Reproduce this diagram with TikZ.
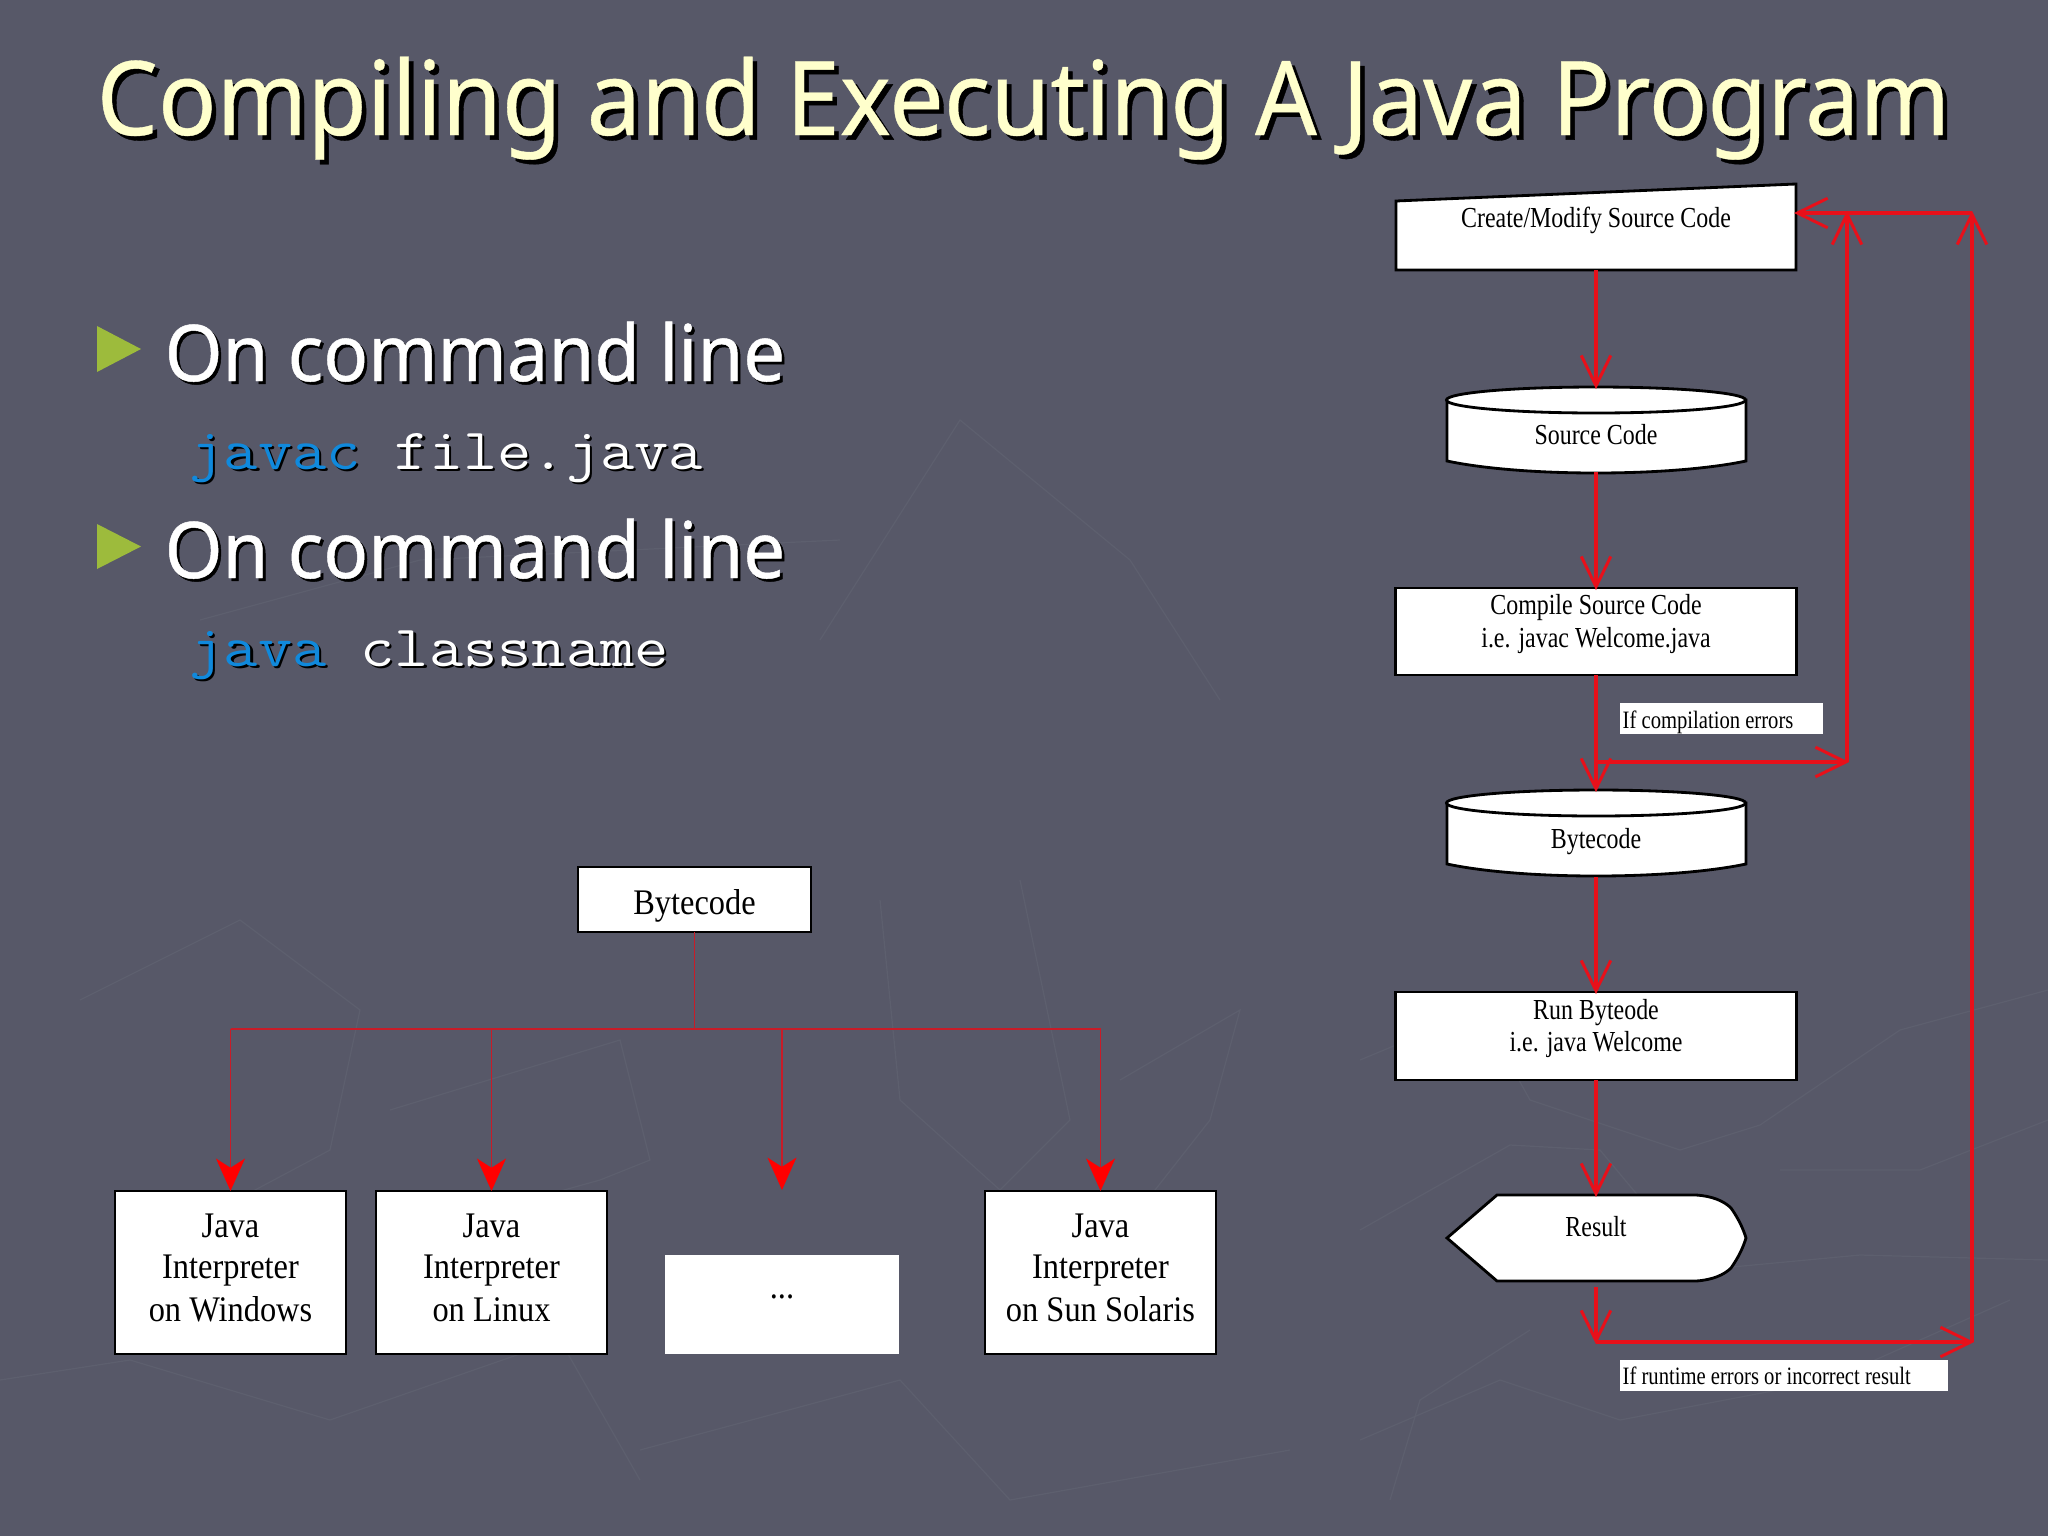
\documentclass[tikz,border=0pt]{standalone}
\usepackage{fontspec}
\usetikzlibrary{arrows.meta,calc}
\setmainfont{Liberation Serif}
\newfontfamily\titlefont[FakeStretch=0.941,FakeBold=0.35]{Noto Sans}
\newfontfamily\headfont[FakeStretch=0.95,FakeBold=0.6]{Noto Sans}
\newfontfamily\codefont[FakeStretch=1.138]{Latin Modern Mono}
\newfontfamily\flowfont[FakeStretch=0.825]{Liberation Serif}
\newfontfamily\treefont[FakeStretch=0.90]{Liberation Serif}
\definecolor{bgc}{HTML}{575868}
\definecolor{bgl}{HTML}{5D5F6E}
\definecolor{titlec}{HTML}{FFFFCC}
\definecolor{bulletc}{HTML}{9DBB3C}
\definecolor{codeb}{HTML}{1089DC}
\definecolor{flowred}{HTML}{E8101A}
\definecolor{treered}{HTML}{C81C28}
\newcommand{\shadtxt}[4]{\makebox[0pt][l]{\kern#3\raisebox{-#4}{\color{black}#1}}{\color{#2}#1}}
\tikzset{
  x=0.01cm,y=-0.01cm,
  hit/.style={inner sep=0pt,outer sep=0pt,minimum width=#1},
  flowshape/.style={draw=black,fill=white,line width=0.8pt,line join=miter},
  treebox/.style={draw=black,fill=white,line width=0.7pt,inner sep=0pt,outer sep=0pt,minimum width=2.31cm,minimum height=1.63cm},
  whitebox/.style={fill=white,inner sep=0pt,outer sep=0pt},
  flowtxt/.style={inner sep=0pt,anchor=base,font=\flowfont\fontsize{8.25}{9.2}\selectfont,align=center},
  smalltxt/.style={inner sep=0pt,anchor=base west,font=\flowfont\fontsize{7.11}{8}\selectfont},
  treetxt/.style={inner sep=0pt,anchor=base,font=\treefont\fontsize{10.24}{11.9}\selectfont,align=center},
  flowarrow/.style={draw=flowred,line width=0.95pt,shorten >=-0.6pt,-{Straight Barb[length=8.6pt,width=8.4pt,line width=0.85pt]}},
  treearrow/.style={draw=treered,line width=0.5pt,-{Stealth[length=9.2pt,width=8.2pt,inset=2.6pt,color=red]}},
  treeline/.style={draw=treered,line width=0.7pt},
  bgline/.style={draw=bgl,line width=0.35pt},
  headtxt/.style={inner sep=0pt,anchor=base west,font=\headfont\fontsize{22.2}{26}\selectfont},
  codetxt/.style={inner sep=0pt,anchor=base west,font=\codefont\fontsize{16.6}{19}\selectfont},
  bullet/.style={fill=bulletc,draw=none}
}
\newcommand{\flowcyl}[1]{%
  \filldraw[flowshape] (1447,{#1+13}) -- (1447,{#1+74})
    .. controls (1485,{#1+82}) and (1540,{#1+86}) .. (1596,{#1+86})
    .. controls (1652,{#1+86}) and (1708,{#1+82}) .. (1746,{#1+74}) -- (1746,{#1+13}) -- cycle;
  \filldraw[flowshape] (1596,{#1+13}) ellipse [x radius=149.5,y radius=13];
}
\begin{document}
\begin{tikzpicture}
\useasboundingbox (0,0) rectangle (2048,1536);
\fill[bgc] (0,0) rectangle (2048,1536);
% faint background texture
\draw[bgline] (1360,1060) -- (1480,1010) -- (1530,1100) -- (1680,1150) -- (1760,1125) -- (1900,1030) -- (2048,990);
\draw[bgline] (1780,1170) -- (1920,1170) -- (2048,1120);
\draw[bgline] (1360,1230) -- (1510,1145) -- (1600,1150) -- (1700,1270) -- (1860,1255) -- (2048,1260);
\draw[bgline] (1360,1440) -- (1500,1380) -- (1620,1420) -- (1830,1380) -- (2010,1300);
\draw[bgline] (1390,1500) -- (1420,1400) -- (1530,1330);
\draw[bgline] (80,1000) -- (240,920) -- (360,1010) -- (330,1150) -- (180,1230);
\draw[bgline] (390,1110) -- (620,1040) -- (650,1160) -- (600,1180) -- (420,1230);
\draw[bgline] (880,900) -- (900,1100) -- (1000,1190) -- (1070,1120) -- (1020,880);
\draw[bgline] (1120,1080) -- (1240,1010) -- (1210,1120) -- (1100,1260);
\draw[bgline] (0,1380) -- (130,1360) -- (330,1420) -- (560,1340) -- (640,1480);
\draw[bgline] (640,1450) -- (900,1380) -- (1010,1500) -- (1290,1450);
\draw[bgline] (200,620) -- (420,560) -- (840,540);
\draw[bgline] (820,640) -- (960,420) -- (1130,560) -- (1220,700);
% title and bullets
\node[inner sep=0pt,anchor=base west,font=\titlefont\fontsize{29.3}{34}\selectfont] (title) at (96,135) {\shadtxt{Compiling and Executing A Java Program}{titlec}{1.3pt}{1.3pt}};
\filldraw[bullet] (97,326) -- (141,349) -- (97,372) -- cycle;
\node[headtxt] (h1) at (164,381) {\shadtxt{On command line}{white}{0.8pt}{0.8pt}};
\node[codetxt] (c1) at (189,469) {\shadtxt{javac}{codeb}{0.6pt}{0.7pt} \shadtxt{file.java}{white}{0.6pt}{0.7pt}};
\filldraw[bullet] (97,524) -- (141,546.5) -- (97,569) -- cycle;
\node[headtxt] (h2) at (164,578) {\shadtxt{On command line}{white}{0.8pt}{0.8pt}};
\node[codetxt] (c2) at (189,666) {\shadtxt{java}{codeb}{0.6pt}{0.7pt} \shadtxt{classname}{white}{0.6pt}{0.7pt}};
% right flowchart shapes
\filldraw[flowshape] (1396,201) -- (1796,184) -- (1796,270) -- (1396,270) -- cycle;
\node[hit=4cm,minimum height=0.86cm] (create) at (1596,227) {};
\node[flowtxt] (createT) at (1596,227) {Create/Modify Source Code};
\flowcyl{387}
\node[hit=2.99cm,minimum height=0.85cm] (src) at (1596,429.5) {};
\node[flowtxt] (srcT) at (1596,444) {Source Code};
\node[flowshape,inner sep=0pt,outer sep=0pt,minimum width=4cm,minimum height=0.87cm] (compile) at (1596,631.5) {};
\node[flowtxt] (compileT1) at (1596,614.5) {Compile Source Code};
\node[flowtxt] (compileT2) at (1596,647) {i.e. javac Welcome.java};
\node[whitebox,minimum width=2.03cm,minimum height=0.31cm] (cerr) at (1721.5,718.5) {};
\node[smalltxt] (cerrT) at (1622,728) {If compilation errors};
\flowcyl{790}
\node[hit=2.99cm,minimum height=0.87cm] (bc) at (1596,833.5) {};
\node[flowtxt] (bcT) at (1596,848) {Bytecode};
\node[flowshape,inner sep=0pt,outer sep=0pt,minimum width=4cm,minimum height=0.88cm] (run) at (1596,1036) {};
\node[flowtxt] (runT1) at (1596,1019) {Run Byteode};
\node[flowtxt] (runT2) at (1596,1051) {i.e. java Welcome};
\filldraw[flowshape] (1447,1238) -- (1497,1195) -- (1696,1195)
  .. controls (1712,1196) and (1724,1201) .. (1731,1208)
  .. controls (1738,1218) and (1743,1228) .. (1746,1238)
  .. controls (1743,1248) and (1738,1258) .. (1731,1268)
  .. controls (1724,1275) and (1712,1280) .. (1696,1281)
  -- (1497,1281) -- cycle;
\node[hit=2.99cm,minimum height=0.86cm] (res) at (1596,1238) {};
\node[flowtxt] (resT) at (1596,1236) {Result};
\node[whitebox,minimum width=3.28cm,minimum height=0.31cm] (rerr) at (1784,1375.5) {};
\node[smalltxt] (rerrT) at (1622,1384) {If runtime errors or incorrect result};
% flowchart connectors
\coordinate (j1) at (1596,762);
\coordinate (j2) at (1847,762);
\coordinate (j3) at (1847,213);
\coordinate (j4) at (1596,1342);
\coordinate (j5) at (1972,1342);
\coordinate (j6) at (1972,213);
\draw[flowarrow] (create.south) -- (src.north);
\draw[flowarrow] (src.south) -- (compile.north);
\draw[flowarrow] (compile.south) -- (bc.north);
\draw[flowarrow] (j1) -- (j2);
\draw[flowarrow] (j2) -- (j3);
\draw[flowarrow] (bc.south) -- (run.north);
\draw[flowarrow] (run.south) -- (res.north);
\draw[flowarrow,shorten <=1.7pt] (res.south) -- (j4);
\draw[flowarrow] (j4) -- (j5);
\draw[flowarrow] (j5) -- (j6);
\draw[flowarrow] (j6) -- (create.east |- j6);
% left tree
\node[treebox,minimum width=2.33cm,minimum height=0.65cm] (tb) at (694.5,899.5) {};
\node[treetxt] (tbT) at (694.5,914) {Bytecode};
\node[treebox] (t1) at (230.5,1272.5) {};
\node[treebox] (t2) at (491.5,1272.5) {};
\node[whitebox,minimum width=2.34cm,minimum height=0.99cm] (t3) at (782,1304.5) {};
\node[treebox] (t4) at (1100.5,1272.5) {};
\node[treetxt] (t1a) at (230.5,1237) {Java};
\node[treetxt] (t1b) at (230.5,1278) {Interpreter};
\node[treetxt] (t1c) at (230.5,1321.5) {on Windows};
\node[treetxt] (t2a) at (491.5,1237) {Java};
\node[treetxt] (t2b) at (491.5,1278) {Interpreter};
\node[treetxt] (t2c) at (491.5,1321.5) {on Linux};
\node[treetxt] (t3a) at (782,1298) {...};
\node[treetxt] (t4a) at (1100.5,1237) {Java};
\node[treetxt] (t4b) at (1100.5,1278) {Interpreter};
\node[treetxt] (t4c) at (1100.5,1321.5) {on Sun Solaris};
\coordinate (tj) at (694.5,1029);
\coordinate (t3end) at (782,1190);
\coordinate (tl) at (230.5,1029);
\coordinate (tr) at (1100.5,1029);
\coordinate (t2j) at (491.5,1029);
\coordinate (t3j) at (782,1029);
\draw[treered,line width=0.5pt] (tb.south) -- (tj);
\draw[treeline] (tl) -- (tr);
\draw[treearrow] (tl) -- (t1.north);
\draw[treearrow] (t2j) -- (t2.north);
\draw[treearrow] (t3j) -- (t3end);
\draw[treearrow] (tr) -- (t4.north);
\end{tikzpicture}
\end{document}
